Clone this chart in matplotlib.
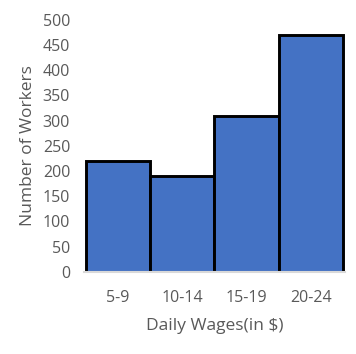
import matplotlib.pyplot as plt

# data
wages = ['5-9', '10-14', '15-19', '20-24']
workers = [220, 190, 310, 470]

plt.rcParams['font.family'] = ['Open Sans', 'DejaVu Sans']
grey = '#595959'

fig = plt.figure(figsize=(3.56, 3.54), dpi=100)
ax = fig.add_axes([0.236, 0.232, 0.733, 0.712])

ax.bar(range(len(wages)), workers, width=1.0, color='#4472C4',
       edgecolor='black', linewidth=2.1)

ax.set_xlim(-0.53, 3.53)
ax.set_ylim(0, 500)
ax.set_yticks(range(0, 501, 50))
ax.set_xticks(range(len(wages)))
ax.set_xticklabels(wages)

for s in ['top', 'right', 'left']:
    ax.spines[s].set_visible(False)
ax.spines['bottom'].set_color('#D9D9D9')
ax.spines['bottom'].set_linewidth(1.5)

ax.tick_params(axis='both', length=0, labelsize=11.5, colors=grey)
ax.tick_params(axis='x', pad=13)
ax.tick_params(axis='y', pad=10)

ax.set_xlabel('Daily Wages(in $)', fontsize=12.5, color=grey, labelpad=9)
ax.set_ylabel('Number of Workers', fontsize=12.5, color=grey, labelpad=5)

fig.savefig('out.png', dpi=100)
